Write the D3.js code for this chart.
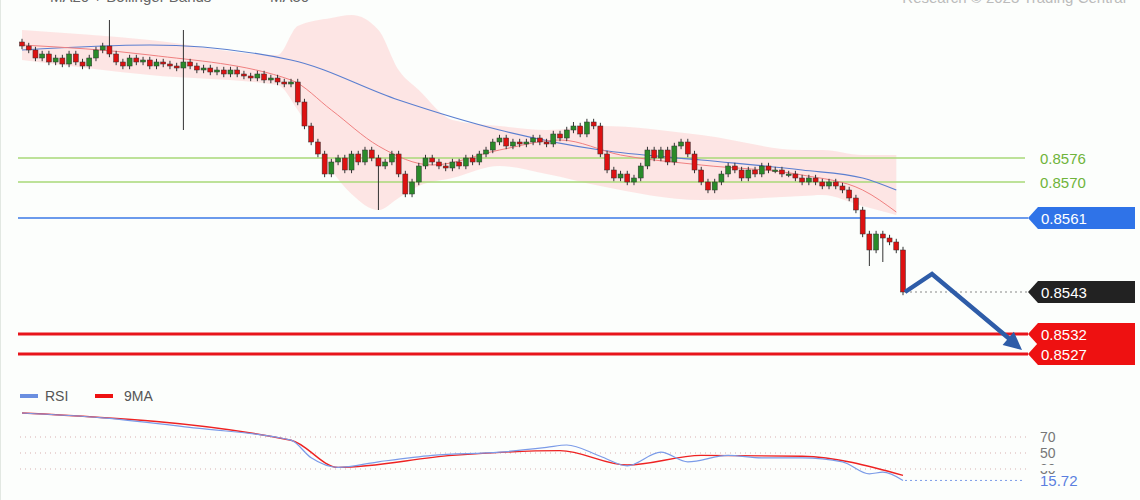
<!DOCTYPE html>
<html><head><meta charset="utf-8">
<script src="https://cdn.jsdelivr.net/npm/d3@7"></script>
<style>body{margin:0;background:#fff}svg{display:block;font-family:"Liberation Sans",Arial,sans-serif}</style>
</head><body><div id="chart"></div>
<script>
// prices in pips above 0.8500
var closes = [104,103,101,102,100,101,99.5,102,100,99,101,103,104,102,100,99,
  101,100,100.5,99,100,99.5,99,98.5,100,99,98,98.5,97.5,98,97,98,97,96.5,96,97,95.5,96,95,94.5,95,
  90,84,80,77,72,75,76,73,77,75,
  78,76,74,75,77,72,67,70,74,76,
  75,74,73.5,75,74,76,75,77,78,80,81,79,80,79.5,80,
  81,80,79.5,82,81,83,84,82,85,84,
  77,73,71,72,70,71,
  74,78,76,78,75,79,80,77,
  73,70,68,70,72,
  74,73,71,73,72,74,73,73,72,72,71,70,71,70,69,70,69,68,
  66,63,57,53,57,56,55,53,42.5];
var wicks = [{i:13, hi:110.5}, {i:24, hi:108, lo:83}, {i:53, lo:63}, {i:82, hi:85}, {i:126, lo:49}, {i:128, lo:50}];
var bandIdx = [0,19,38,41,46,49,53,56,59,64,71,78,86,101,116,119,125,130];
var upper   = [108,105.5,101.75,109,111,111.75,108,98,93,85.5,84,83,84,81.75,78,78,76.75,76.75];
var lower   = [100.5,96.75,94.25,88,73,67,63,66,69,71,74,72,69,65.5,66.5,66.75,64,61.75];
var ma20Idx = [0,19,40,46,53,61,71,80,89,101,116,125,130];
var ma20    = [104.25,101.75,95.5,88,79,74.25,78,80.5,76.75,74.25,71.75,68,62.5];
var ma50Idx = [0,19,40,56,71,86,101,116,125,130];
var ma50    = [103,104.25,100.5,90.5,83,78,75.5,73,71,68];
var rsiIdx  = [0,12,26,40,43,47,53,61,71,78,81,86,90,95,99,105,110,116,122,126,128,131];
var rsi     = [100,94,81,66,44,32,39,47,51,57,60,46,34,51,39,47,44,44,39,24,26,15.72];
var rsiMaIdx = [0,40,47,64,80,90,101,116,131];
var rsiMa    = [100,66,32,47,53,35,47,46,22];
var levels = [
  {v:76, label:"0.8576", kind:"green"},
  {v:70, label:"0.8570", kind:"green"},
  {v:61, label:"0.8561", kind:"blue"},
  {v:42.5, label:"0.8543", kind:"last"},
  {v:32, label:"0.8532", kind:"red"},
  {v:27, label:"0.8527", kind:"red"}];
var rsiTicks = [70, 50, 30];

var W = 1140, H = 500;
var svg = d3.select("#chart").append("svg").attr("width", W).attr("height", H);
svg.append("rect").attr("width", W).attr("height", H).attr("fill", "#fcfefc");
svg.append("line").attr("x1", 0.5).attr("x2", 0.5).attr("y1", 0).attr("y2", H).attr("stroke", "#e2e8e2");

var x = d3.scaleLinear().domain([0, closes.length - 1]).range([22, 903]);
var y = d3.scaleLinear().domain([61, 32]).range([218, 334]);
var yr = d3.scaleLinear().domain([30, 70]).range([469, 437]);

// bollinger band
var band = bandIdx.map(function(d, k) { return {i:d, u:upper[k], l:lower[k]}; });
svg.append("path").datum(band).attr("fill", "#fde0df").attr("opacity", 0.85)
  .attr("d", d3.area().curve(d3.curveMonotoneX).x(function(d){return x(d.i);})
    .y0(function(d){return y(d.l);}).y1(function(d){return y(d.u);}));

function linePts(idx, vals) { return idx.map(function(d, k){ return [x(d), vals[k]]; }); }
var lineP = d3.line().curve(d3.curveMonotoneX).x(function(d){return d[0];}).y(function(d){return y(d[1]);});

// horizontal levels
levels.forEach(function(l) {
  var yy = y(l.v);
  if (l.kind == "green") svg.append("line").attr("x1", 18).attr("x2", 1025).attr("y1", yy).attr("y2", yy).attr("stroke", "#a8d878").attr("stroke-width", 1.5);
  if (l.kind == "blue") svg.append("line").attr("x1", 18).attr("x2", 1028).attr("y1", yy).attr("y2", yy).attr("stroke", "#3b78e7").attr("stroke-width", 1.5);
  if (l.kind == "red") svg.append("line").attr("x1", 18).attr("x2", 1028).attr("y1", yy).attr("y2", yy).attr("stroke", "#e8141b").attr("stroke-width", 3);
  if (l.kind == "last") svg.append("line").attr("x1", 905).attr("x2", 1028).attr("y1", yy).attr("y2", yy).attr("stroke", "#888").attr("stroke-dasharray", "2,3");
  if (l.kind == "green") {
    svg.append("text").attr("x", 1040).attr("y", yy + 6).attr("fill", "#6fb43a").attr("font-size", 15).text(l.label);
  } else {
    var fill = l.kind == "blue" ? "#2f73e8" : l.kind == "red" ? "#ee1111" : "#222";
    svg.append("path").attr("fill", fill)
      .attr("d", "M1028," + yy + "L1038," + (yy - 11) + "H1135V" + (yy + 11) + "H1038Z");
    svg.append("text").attr("x", 1041).attr("y", yy + 6).attr("fill", "#fff").attr("font-size", 15).text(l.label);
  }
});

svg.append("path").datum(linePts(ma50Idx, ma50)).attr("fill", "none").attr("stroke", "#5b7fd0").attr("stroke-width", 1.2).attr("d", lineP);
svg.append("path").datum(linePts(ma20Idx, ma20)).attr("fill", "none").attr("stroke", "#f08080").attr("stroke-width", 1).attr("d", lineP);

// candles
var candles = closes.map(function(c, i) {
  var o = i == 0 ? 105 : closes[i - 1];
  var d = {i:i, o:o, c:c, h:Math.max(o, c) + 0.8, l:Math.min(o, c) - 0.8};
  wicks.forEach(function(w){ if (w.i == i) { if (w.hi) d.h = w.hi; if (w.lo) d.l = w.lo; } });
  return d;
});
var g = svg.append("g");
g.selectAll("line.w").data(candles).enter().append("line")
  .attr("x1", function(d){return x(d.i);}).attr("x2", function(d){return x(d.i);})
  .attr("y1", function(d){return y(d.h);}).attr("y2", function(d){return y(d.l);})
  .attr("stroke", "#333").attr("stroke-width", 1);
g.selectAll("rect").data(candles).enter().append("rect")
  .attr("x", function(d){return x(d.i) - 2.5;}).attr("width", 5)
  .attr("y", function(d){return y(Math.max(d.o, d.c));})
  .attr("height", function(d){return Math.max(1.5, Math.abs(y(d.o) - y(d.c)));})
  .attr("fill", function(d){return d.c >= d.o ? "#2a8a2a" : "#dd1111";})
  .attr("stroke", "#333").attr("stroke-width", 0.5);

// forecast arrow
var last = closes[closes.length - 1];
var ax = [x(closes.length - 1) + 2, 932, 1022], ay = [y(last), y(47), y(28)];
svg.append("path").attr("fill", "none").attr("stroke", "#2e5ca8").attr("stroke-width", 4.5)
  .attr("d", "M" + ax[0] + "," + ay[0] + "L" + ax[1] + "," + ay[1] + "L" + (ax[2] - 10) + "," + (ay[2] - 9));
var ang = Math.atan2(ay[2] - ay[1], ax[2] - ax[1]);
function pt(r, a) { return [ax[2] + r * Math.cos(a), ay[2] + r * Math.sin(a)]; }
var p1 = pt(-20, ang - 0.45), p2 = pt(-20, ang + 0.45);
svg.append("path").attr("fill", "#2e5ca8").attr("d", "M" + ax[2] + "," + ay[2] + "L" + p1 + "L" + p2 + "Z");

// top legend (cut off) and watermark
svg.append("rect").attr("x", 20).attr("y", -6).attr("width", 18).attr("height", 6).attr("fill", "#f4a0a0");
svg.append("text").attr("x", 50).attr("y", 2).attr("font-size", 15).attr("fill", "#666").text("MA20 + Bollinger Bands");
svg.append("rect").attr("x", 240).attr("y", -4).attr("width", 18).attr("height", 3).attr("fill", "#5b7fd0");
svg.append("text").attr("x", 270).attr("y", 2).attr("font-size", 15).attr("fill", "#666").text("MA50");
svg.append("text").attr("x", 1126).attr("y", 3).attr("text-anchor", "end").attr("font-size", 15).attr("fill", "#bbb").text("Research © 2023 Trading Central");

// RSI pane
svg.append("rect").attr("x", 20).attr("y", 394).attr("width", 18).attr("height", 4).attr("fill", "#6a8fe0");
svg.append("text").attr("x", 45).attr("y", 401).attr("font-size", 14).attr("fill", "#555").text("RSI");
svg.append("rect").attr("x", 95).attr("y", 394).attr("width", 18).attr("height", 4).attr("fill", "#ee1111");
svg.append("text").attr("x", 124).attr("y", 401).attr("font-size", 14).attr("fill", "#555").text("9MA");
rsiTicks.forEach(function(t) {
  svg.append("line").attr("x1", 20).attr("x2", 1027).attr("y1", yr(t)).attr("y2", yr(t))
    .attr("stroke", "#d8b0b0").attr("stroke-dasharray", "1,4");
  svg.append("text").attr("x", 1040).attr("y", yr(t) + 5).attr("font-size", 14).attr("fill", "#777").text(t);
});
var lineR = d3.line().curve(d3.curveMonotoneX).x(function(d){return d[0];}).y(function(d){return yr(d[1]);});
svg.append("path").datum(linePts(rsiMaIdx, rsiMa)).attr("fill", "none").attr("stroke", "#ee2222").attr("stroke-width", 1.4).attr("d", lineR);
svg.append("path").datum(linePts(rsiIdx, rsi)).attr("fill", "none").attr("stroke", "#7b9be8").attr("stroke-width", 1.2).attr("d", lineR);
var rl = rsi[rsi.length - 1];
svg.append("line").attr("x1", 905).attr("x2", 1022).attr("y1", yr(rl)).attr("y2", yr(rl)).attr("stroke", "#7b9be8").attr("stroke-dasharray", "2,3");
svg.append("rect").attr("x", 1036).attr("y", yr(30) - 4).attr("width", 30).attr("height", 6).attr("fill", "#fcfefc");
svg.append("text").attr("x", 1040).attr("y", yr(rl) + 6).attr("font-size", 15).attr("fill", "#5b7fe0").text(rl.toFixed(2));
</script></body></html>
